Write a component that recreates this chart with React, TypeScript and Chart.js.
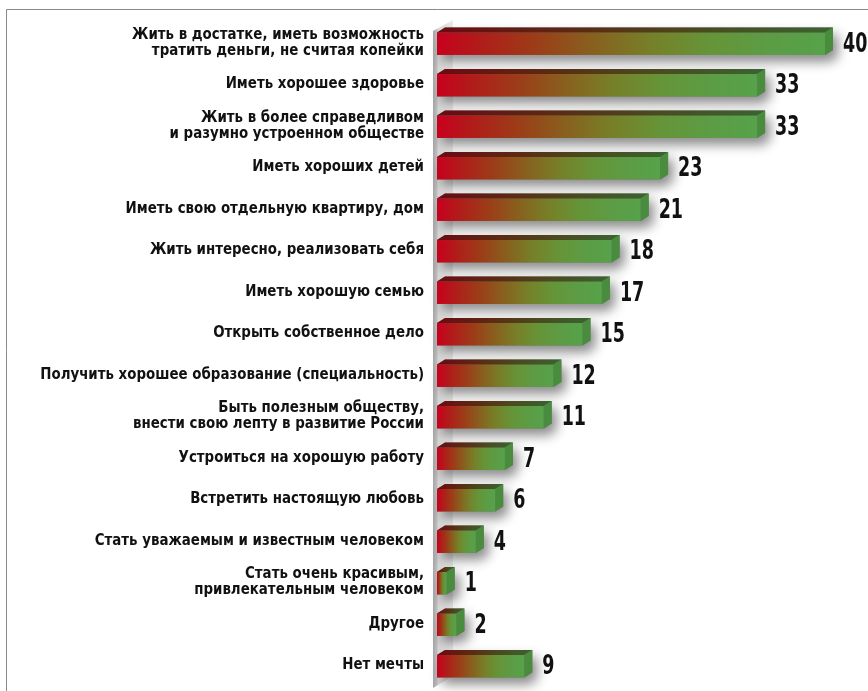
import React, { useEffect, useRef } from "react";
import { Chart, registerables } from "chart.js";

Chart.register(...registerables);

const categories: (string | string[])[] = [
  ["Жить в достатке, иметь возможность", "тратить деньги, не считая копейки"],
  "Иметь хорошее здоровье",
  ["Жить в более справедливом", "и разумно устроенном обществе"],
  "Иметь хороших детей",
  "Иметь свою отдельную квартиру, дом",
  "Жить интересно, реализовать себя",
  "Иметь хорошую семью",
  "Открыть собственное дело",
  "Получить хорошее образование (специальность)",
  ["Быть полезным обществу,", "внести свою лепту в развитие России"],
  "Устроиться на хорошую работу",
  "Встретить настоящую любовь",
  "Стать уважаемым и известным человеком",
  ["Стать очень красивым,", "привлекательным человеком"],
  "Другое",
  "Нет мечты",
];

const values: number[] = [40, 33, 33, 23, 21, 18, 17, 15, 12, 11, 7, 6, 4, 1, 2, 9];

const FONT = '"DejaVu Sans Condensed", "DejaVu Sans", sans-serif';
const DX = 8;
const DY = 5;

const frontStops: [number, string][] = [
  [0, "#c8001e"],
  [0.1, "#b21a1a"],
  [0.25, "#9c3c18"],
  [0.4, "#88601e"],
  [0.55, "#768028"],
  [0.7, "#669438"],
  [0.85, "#5c9c44"],
  [1, "#56a24a"],
];
const topStops: [number, string][] = [
  [0, "#6c0a12"],
  [0.35, "#5c2a12"],
  [0.65, "#4a4a1e"],
  [1, "#3a6430"],
];

function grad(ctx: CanvasRenderingContext2D, x0: number, x1: number, stops: [number, string][]) {
  const g = ctx.createLinearGradient(x0, 0, Math.max(x1, x0 + 1), 0);
  stops.forEach(([o, c]) => g.addColorStop(o, c));
  return g;
}

const bars3d = {
  id: "bars3d",
  beforeDraw(chart: any) {
    const ctx: CanvasRenderingContext2D = chart.ctx;
    ctx.save();
    ctx.fillStyle = "#ffffff";
    ctx.fillRect(0, 0, chart.width, chart.height);
    ctx.strokeStyle = "#8a8a8a";
    ctx.lineWidth = 1;
    ctx.beginPath();
    ctx.moveTo(6.5, chart.height);
    ctx.lineTo(6.5, 9.5);
    ctx.lineTo(chart.width, 9.5);
    ctx.stroke();
    ctx.restore();
  },
  beforeDatasetsDraw(chart: any) {
    const ctx: CanvasRenderingContext2D = chart.ctx;
    const a = chart.chartArea;
    const x0 = a.left - 4;
    const x1 = a.left + 16;
    ctx.save();
    const g = ctx.createLinearGradient(x0, 0, x1, 0);
    g.addColorStop(0, "#a6a6a6");
    g.addColorStop(0.2, "#c0c0c0");
    g.addColorStop(0.25, "#d8d8d8");
    g.addColorStop(1, "#ececec");
    ctx.fillStyle = g;
    ctx.beginPath();
    ctx.moveTo(x0, a.top + 8);
    ctx.lineTo(x1, a.top - 3);
    ctx.lineTo(x1, a.bottom - 11);
    ctx.lineTo(x0, a.bottom + 1);
    ctx.closePath();
    ctx.fill();
    ctx.restore();

    const meta = chart.getDatasetMeta(0);
    meta.data.forEach((el: any) => {
      const p = el.getProps(["x", "y", "base", "height"], true);
      const top = p.y - p.height / 2;
      const bottom = p.y + p.height / 2;
      ctx.save();
      ctx.shadowColor = "rgba(0,0,0,0.45)";
      ctx.shadowBlur = 12;
      ctx.shadowOffsetX = 5;
      ctx.shadowOffsetY = 7;
      ctx.fillStyle = "#777";
      ctx.beginPath();
      ctx.moveTo(p.base, bottom);
      ctx.lineTo(p.base, top);
      ctx.lineTo(p.base + DX, top - DY);
      ctx.lineTo(p.x + DX, top - DY);
      ctx.lineTo(p.x + DX, bottom - DY);
      ctx.lineTo(p.x, bottom);
      ctx.closePath();
      ctx.fill();
      ctx.restore();
    });
  },
  afterDatasetsDraw(chart: any) {
    const ctx: CanvasRenderingContext2D = chart.ctx;
    const meta = chart.getDatasetMeta(0);
    meta.data.forEach((el: any, i: number) => {
      const p = el.getProps(["x", "y", "base", "height"], true);
      const top = p.y - p.height / 2;
      const bottom = p.y + p.height / 2;
      ctx.save();
      ctx.fillStyle = grad(ctx, p.base, p.x, frontStops);
      ctx.fillRect(p.base, top, p.x - p.base, p.height);
      ctx.fillStyle = grad(ctx, p.base, p.x + DX, topStops);
      ctx.beginPath();
      ctx.moveTo(p.base, top);
      ctx.lineTo(p.base + DX, top - DY);
      ctx.lineTo(p.x + DX, top - DY);
      ctx.lineTo(p.x, top);
      ctx.closePath();
      ctx.fill();
      ctx.fillStyle = "#4a8c3e";
      ctx.beginPath();
      ctx.moveTo(p.x, top);
      ctx.lineTo(p.x + DX, top - DY);
      ctx.lineTo(p.x + DX, bottom - DY);
      ctx.lineTo(p.x, bottom);
      ctx.closePath();
      ctx.fill();
      // value label (condensed)
      ctx.translate(p.x + DX + 10, p.y + 1);
      ctx.scale(0.72, 1);
      ctx.fillStyle = "#111";
      ctx.font = `bold 27px ${FONT}`;
      ctx.textAlign = "left";
      ctx.textBaseline = "middle";
      ctx.fillText(String(values[i]), 0, 0);
      ctx.restore();
    });

    // category labels, positioned by the y scale
    const ys = chart.scales.y;
    const right = chart.chartArea.left - 13;
    categories.forEach((lab, i) => {
      const lines = Array.isArray(lab) ? lab : [lab];
      const cy = ys.getPixelForValue(i) - 1;
      const lh = 16;
      ctx.save();
      ctx.fillStyle = "#111";
      ctx.font = `bold 16px ${FONT}`;
      ctx.textAlign = "right";
      ctx.textBaseline = "middle";
      lines.forEach((ln, k) => {
        const y = cy + (k - (lines.length - 1) / 2) * lh;
        ctx.save();
        ctx.translate(right, y);
        ctx.scale(0.93, 1);
        ctx.fillText(ln, 0, 0);
        ctx.restore();
      });
      ctx.restore();
    });
  },
};

export default function App() {
  const ref = useRef<HTMLCanvasElement | null>(null);
  useEffect(() => {
    if (!ref.current) return;
    const chart = new Chart(ref.current, {
      type: "bar",
      data: {
        labels: categories,
        datasets: [
          {
            data: values,
            backgroundColor: "rgba(0,0,0,0)",
            borderWidth: 0,
            barPercentage: 0.54,
            categoryPercentage: 1,
          },
        ],
      },
      options: {
        indexAxis: "y",
        responsive: false,
        animation: false,
        devicePixelRatio: 1,
        layout: { padding: { top: 23, bottom: 4, left: 0, right: 43 } },
        plugins: {
          legend: { display: false },
          tooltip: { enabled: false },
        },
        scales: {
          x: { display: false, min: 0, max: 40 },
          y: {
            grid: { display: false },
            border: { display: false },
            ticks: { display: false },
            afterFit: (scale: any) => {
              scale.width = 437;
            },
          },
        },
      },
      plugins: [bars3d],
    } as any);
    return () => chart.destroy();
  }, []);
  return (
    <div style={{ position: "absolute", left: 0, top: 0, width: 868, height: 691 }}>
      <canvas ref={ref} width={868} height={691} style={{ display: "block", width: 868, height: 691 }} />
    </div>
  );
}
